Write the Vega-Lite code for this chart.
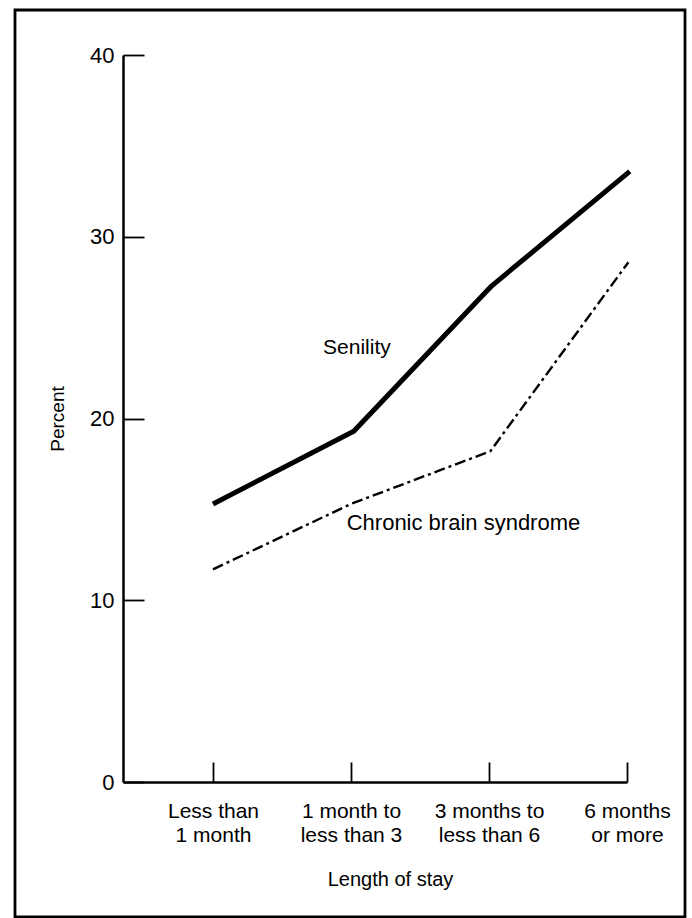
{
  "$schema": "https://vega.github.io/schema/vega-lite/v6.json",
  "width": 670,
  "height": 907,
  "autosize": {"type": "none"},
  "padding": {"left": 15, "top": 10, "right": 7, "bottom": 1},
  "background": "white",
  "config": {
    "view": {"stroke": "black", "strokeWidth": 2.8, "fill": "white"},
    "font": "Liberation Sans",
    "axis": {
      "grid": false,
      "domainColor": "black",
      "domainWidth": 2.5,
      "tickColor": "black",
      "tickWidth": 1.8,
      "labelColor": "black",
      "titleColor": "black",
      "labelFont": "Liberation Sans",
      "titleFont": "Liberation Sans",
      "titleFontWeight": "normal",
      "labelFlush": false,
      "labelOverlap": false
    }
  },
  "datasets": {
    "series": [
      {"stay": 1, "percent": 15.3, "series": "Senility"},
      {"stay": 2.02, "percent": 19.3, "series": "Senility"},
      {"stay": 3.02, "percent": 27.3, "series": "Senility"},
      {"stay": 4.02, "percent": 33.6, "series": "Senility"},
      {"stay": 1, "percent": 11.7, "series": "Chronic brain syndrome"},
      {"stay": 2, "percent": 15.3, "series": "Chronic brain syndrome"},
      {"stay": 3.01, "percent": 18.2, "series": "Chronic brain syndrome"},
      {"stay": 4.01, "percent": 28.6, "series": "Chronic brain syndrome"}
    ],
    "labels": [
      {"stay": 2.043, "percent": 23.88, "text": "Senility"},
      {"stay": 2.815, "percent": 14.27, "text": "Chronic brain syndrome"}
    ]
  },
  "encoding": {
    "x": {
      "field": "stay",
      "type": "quantitative",
      "scale": {"domain": [0.348, 4], "range": [108, 612], "nice": false, "zero": false},
      "axis": {
        "values": [1, 2, 3, 4],
        "offset": -135,
        "tickSize": -20,
        "labelPadding": 38,
        "labelFontSize": 21,
        "labelLineHeight": 24,
        "labelExpr": "datum.value == 1 ? ['Less  than', '1 month'] : datum.value == 2 ? ['1 month to', 'less than 3'] : datum.value == 3 ? ['3 months to', 'less than 6'] : ['6 months', 'or more']",
        "title": "Length of stay",
        "titleFontSize": 20,
        "titleX": 375,
        "titlePadding": 24
      }
    },
    "y": {
      "field": "percent",
      "type": "quantitative",
      "scale": {"domain": [0, 40], "range": [772, 45], "nice": false, "zero": false},
      "axis": {
        "values": [0, 10, 20, 30, 40],
        "offset": -108,
        "tickSize": -21,
        "labelPadding": 30,
        "labelFontSize": 22,
        "title": "Percent",
        "titleFontSize": 19,
        "titlePadding": 22
      }
    }
  },
  "layer": [
    {
      "data": {"name": "series"},
      "transform": [{"filter": "datum.series == 'Senility'"}],
      "mark": {"type": "line", "color": "black", "strokeWidth": 5, "strokeJoin": "round"}
    },
    {
      "data": {"name": "series"},
      "transform": [{"filter": "datum.series == 'Chronic brain syndrome'"}],
      "mark": {"type": "line", "color": "black", "strokeWidth": 2.4, "strokeDash": [11, 4, 3, 4]}
    },
    {
      "data": {"name": "labels"},
      "transform": [{"filter": "datum.text == 'Senility'"}],
      "mark": {"type": "text", "color": "black", "fontSize": 21, "font": "Liberation Sans", "align": "center", "baseline": "middle"},
      "encoding": {"text": {"field": "text"}}
    },
    {
      "data": {"name": "labels"},
      "transform": [{"filter": "datum.text == 'Chronic brain syndrome'"}],
      "mark": {"type": "text", "color": "black", "fontSize": 22, "font": "Liberation Sans", "align": "center", "baseline": "middle"},
      "encoding": {"text": {"field": "text"}}
    }
  ]
}
